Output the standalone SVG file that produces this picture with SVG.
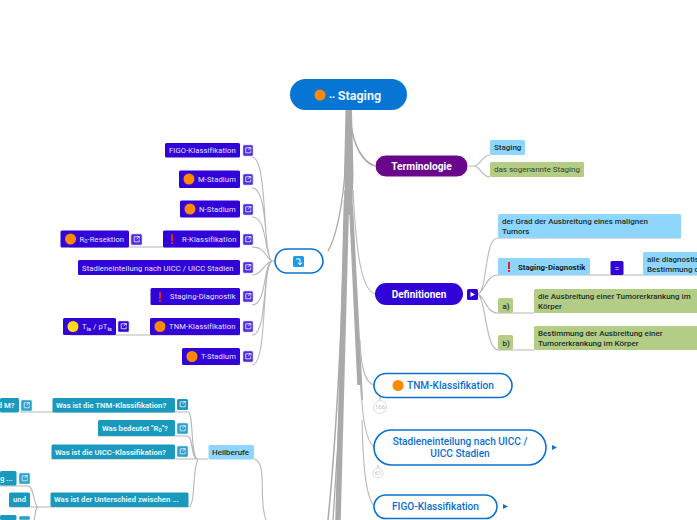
<svg xmlns="http://www.w3.org/2000/svg" width="697" height="520" viewBox="0 0 697 520">
<style>
text{font-family:Roboto,"Liberation Sans",sans-serif}
.c{fill:none;stroke:#b8b8b8;stroke-width:1.1}
.k{fill:none;stroke:#a9aaa9;stroke-linecap:butt}
.p{fill:#3103d8}.pt{font-size:7.6px;fill:#e8e4ff;letter-spacing:.12px}
.b{fill:#4a2be0;stroke:#c9c2f5;stroke-width:.6}
.tl{fill:#1899bd}.tb{fill:#2aa3c4;stroke:#bfe3ee;stroke-width:.6}.tt{font-size:7.7px;font-weight:700;fill:#e2f5fa}
.bl{fill:#8fd6fe}.g{fill:#b3cc86}.d{font-size:8px;fill:#20302a;font-weight:500}.n{font-size:8px;fill:#35452a}
.w{fill:#fff;stroke:#0a72d0;stroke-width:1.6}.wt{font-size:10.1px;font-weight:500;fill:#0a6fcf}
.o{fill:#ff8a00}.y{fill:#ffd91a}.r{fill:#e2232b}
</style>
<defs>
<g id="ext"><path d="M5.500 0.800H1.200V5.800H6.200V3.500M3.500 3.300L6.200 0.600M4.300 0.500H6.400V2.600" fill="none" stroke="#e4e0ff" stroke-width=".9"/></g>
</defs>
<g id="connectors">
<path d="M345.500 110H352L353.500 175L352 215H346L344 175Z" fill="#a9aaa9"/>
<path class="k" stroke-width="5.500" d="M346.500 200C345.500 270 342 340 338 520"/>
<path class="k" stroke-width="3.500" d="M350.500 200C351.500 230 354 280 359 385"/>
<path class="k" stroke-width="2" d="M352 205C354 255 358 320 362 400"/>
<path class="k" stroke-width="1.500" d="M345 190C344 280 338 420 328 520"/>
<path class="k" stroke-width="1.300" d="M346 185C345 290 340 420 333 520"/>
<path class="k" stroke-width="1.600" d="M351 125C354 145 362 162 375 166"/>
<path class="k" stroke-width="1.300" d="M345.500 165C343 205 336 238 328 251"/>
<path class="c" d="M468 166H474C480 166 482 155 490 155M474 166C480 166 482 177 490 177"/>
<path class="c" d="M353 190C356 250 361 290 375 294"/>
<path class="c" d="M478 294C488 290 484 238 498 238H681M478 294C486 290 486 275 498 275H590M478 294C486 298 486 313 498 313H534M478 294C486 300 486 350 498 350H534M590 275H697"/>
<path class="c" d="M360 340C361 365 364 382 374 385M361 385C362 415 365 440 374 447M362 420C363 460 365 495 374 506"/>
<path class="c" stroke-width="1.400" d="M272 261C262 255 268 157 252 157M272 261C263 255 269 188 252 188M272 261C264 256 268 217 252 217M272 261C265 258 266 247 252 247M272 261C265 262 262 275 252 275M272 261C263 264 267 305 252 305M272 261C262 266 268 335 252 335M272 261C261 268 268 365 252 365"/>
<path class="c" d="M272 261H275M240 247H70M240 335H70"/>
<path class="c" d="M208 459H198C190 459 194 412 188 412H20M198 459C190 459 194 436 187 436H98M198 459H51M198 459C192 470 196 507 188 507H50"/>
<path class="c" d="M50 507H38C34 507 34 486 28 486H0M38 507H9M38 507C34 510 36 515 34 520"/>
<path class="c" stroke-width="1.600" d="M254 459C268 462 258 500 266 520"/>
<path class="c" d="M380 397V401M378 465V468"/>
</g>
<g id="root"><rect x="290" y="79" width="117" height="31" rx="15.500" fill="#0675d3"/><circle cx="320" cy="95" r="5.500" class="o"/><text x="329" y="99.500" font-size="12.500" font-weight="700" fill="#eaf5ff"><tspan font-size="8">••</tspan> Staging</text></g>
<g id="terminologie"><rect x="375" y="155" width="93" height="22" rx="11" fill="#6a068c" stroke="#fff"/><text x="421.500" y="169.500" font-size="10.200" font-weight="700" fill="#fff" text-anchor="middle">Terminologie</text></g>
<g id="term-staging"><rect x="490" y="140" width="35" height="15" rx="1.500" class="bl"/><text x="494" y="150" class="d">Staging</text></g>
<g id="term-das"><rect x="490" y="162" width="94" height="15" rx="1.500" class="g"/><text x="494" y="172" class="n">das sogenannte Staging</text></g>
<g id="definitionen"><rect x="375" y="283" width="88" height="22" rx="11" fill="#3103d8"/><text x="419" y="298" font-size="10" font-weight="700" fill="#fff" text-anchor="middle">Definitionen</text><rect x="467" y="289" width="11" height="11" rx="1.500" class="p"/><path d="M470.500 292L475 294.500L470.500 297Z" fill="#fff"/></g>
<g id="def-grad"><rect x="498" y="214" width="183" height="24" rx="1.500" class="bl"/><text class="d" x="502" y="224">der Grad der Ausbreitung eines malignen</text><text class="d" x="502" y="234">Tumors</text></g>
<g id="def-diag"><rect x="498" y="258" width="92" height="17" rx="1.500" class="bl"/><rect x="508" y="262" width="2" height="7" class="r"/><rect x="508" y="270" width="2" height="2" class="r"/><text x="518" y="270" font-size="7.800" font-weight="700" fill="#152020">Staging-Diagnostik</text></g>
<g id="def-eq"><rect x="610.500" y="261" width="13" height="14" rx="1.500" class="p"/><text x="617" y="271" font-size="8" fill="#fff" text-anchor="middle">=</text></g>
<g id="def-alle"><rect x="643" y="252" width="60" height="23" rx="1.500" class="bl"/><text class="d" x="647" y="261.500">alle diagnostischen</text><text class="d" x="647" y="271.500">Bestimmung der</text></g>
<g id="def-a"><rect x="498" y="298" width="15" height="15" rx="2" class="g"/><text x="502.500" y="309" class="d">a)</text></g>
<g id="def-a-text"><rect x="534" y="289" width="170" height="24" rx="1.500" class="g"/><text class="d" x="538" y="299">die Ausbreitung einer Tumorerkrankung im</text><text class="d" x="538" y="309">Körper</text></g>
<g id="def-b"><rect x="498" y="335" width="15" height="15" rx="2" class="g"/><text x="502.500" y="346" class="d">b)</text></g>
<g id="def-b-text"><rect x="534" y="326" width="170" height="24" rx="1.500" class="g"/><text class="d" x="538" y="336">Bestimmung der Ausbreitung einer</text><text class="d" x="538" y="346">Tumorerkrankung im Körper</text></g>
<g id="tnm"><rect x="374" y="373.500" width="138" height="24" rx="12" class="w"/><circle cx="398" cy="385.500" r="5.500" class="o"/><text x="407" y="389" class="wt">TNM-Klassifikation</text></g>
<g id="badge-166"><circle cx="380" cy="407" r="6.500" fill="#fff" stroke="#ddd"/><text x="380" y="409" font-size="6" fill="#bbb" text-anchor="middle">166</text></g>
<g id="stadien"><rect x="374" y="430" width="172" height="35" rx="17.500" class="w"/><text x="460" y="445" class="wt" text-anchor="middle">Stadieneinteilung nach UICC /</text><text x="460" y="457" class="wt" text-anchor="middle">UICC Stadien</text><path d="M552 445L557 447.500L552 450Z" fill="#0a72d0"/></g>
<g id="badge-61"><circle cx="378" cy="473" r="5" fill="#fff" stroke="#ddd"/><text x="378" y="475" font-size="6" fill="#bbb" text-anchor="middle">61</text></g>
<g id="figo"><rect x="374" y="495" width="123" height="23.500" rx="11.700" class="w"/><text x="435.500" y="510" class="wt" text-anchor="middle">FIGO-Klassifikation</text><path d="M503 504L508 506.500L503 509Z" fill="#0a72d0"/></g>
<g id="hub"><rect x="275" y="249" width="48" height="24" rx="12" fill="#fff" stroke="#0a72d0" stroke-width="1.600"/><rect x="293" y="256" width="11" height="11" rx="1.500" fill="#1c9be6"/><path d="M296 259H300V264M298 262.500L300 265L302 262.500" fill="none" stroke="#fff"/></g>
<g id="l-figo"><rect x="165" y="143" width="75" height="14.500" rx="1.500" class="p"/><text x="169" y="153" class="pt">FIGO-Klassifikation</text><rect x="243" y="145" width="10" height="11" rx="1.500" class="b"/><use href="#ext" x="244.500" y="147"/></g>
<g id="l-m"><rect x="179" y="170.500" width="61" height="17.500" rx="1.500" class="p"/><circle cx="189" cy="179" r="5.500" class="o"/><text x="198" y="182" class="pt">M-Stadium</text><rect x="243" y="174" width="10" height="11" rx="1.500" class="b"/><use href="#ext" x="244.500" y="176"/></g>
<g id="l-n"><rect x="180" y="200.500" width="60" height="17" rx="1.500" class="p"/><circle cx="190" cy="209" r="5.500" class="o"/><text x="199" y="212" class="pt">N-Stadium</text><rect x="243" y="204" width="10" height="11" rx="1.500" class="b"/><use href="#ext" x="244.500" y="206"/></g>
<g id="l-r"><rect x="163" y="230.500" width="77" height="17" rx="1.500" class="p"/><rect x="171" y="234" width="2" height="7" class="r"/><rect x="171" y="242" width="2" height="2" class="r"/><text x="182" y="242" class="pt">R-Klassifikation</text><rect x="243" y="234" width="10" height="11" rx="1.500" class="b"/><use href="#ext" x="244.500" y="236"/></g>
<g id="l-r0"><rect x="60.500" y="230.500" width="68.500" height="17" rx="1.500" class="p"/><circle cx="70.500" cy="239" r="5.500" class="o"/><text x="79.500" y="241.500" class="pt">R<tspan font-size="5.500" dy="1.500">0</tspan><tspan dy="-1.500">-Resektion</tspan></text><rect x="131" y="234" width="11" height="11" rx="1.500" class="b"/><use href="#ext" x="133" y="236"/></g>
<g id="l-uicc"><rect x="78" y="260" width="162" height="15" rx="1.500" class="p"/><text x="82" y="271" class="pt">Stadieneinteilung nach UICC / UICC Stadien</text><rect x="243" y="262" width="10" height="11" rx="1.500" class="b"/><use href="#ext" x="244.500" y="264"/></g>
<g id="l-diag"><rect x="150.500" y="288" width="89.500" height="17" rx="1.500" class="p"/><rect x="159" y="292" width="2" height="7" class="r"/><rect x="159" y="300" width="2" height="2" class="r"/><text x="170" y="299" class="pt">Staging-Diagnostik</text><rect x="243" y="291" width="10" height="11" rx="1.500" class="b"/><use href="#ext" x="244.500" y="293"/></g>
<g id="l-tnm"><rect x="150" y="318" width="90" height="17" rx="1.500" class="p"/><circle cx="160" cy="326.500" r="5.500" class="o"/><text x="169" y="329" class="pt">TNM-Klassifikation</text><rect x="243" y="321" width="10" height="11" rx="1.500" class="b"/><use href="#ext" x="244.500" y="323"/></g>
<g id="l-tis"><rect x="63" y="318" width="53" height="17" rx="1.500" class="p"/><circle cx="73" cy="326.500" r="5.500" class="y"/><text x="82" y="329" class="pt">T<tspan font-size="5.500" dy="1.500" font-weight="700">is</tspan><tspan dy="-1.500"> / pT</tspan><tspan font-size="5.500" dy="1.500" font-weight="700">is</tspan></text><rect x="118" y="321" width="11" height="11" rx="1.500" fill="#3103d8" stroke="#c9c2f5" stroke-width=".6"/><use href="#ext" x="120" y="323"/></g>
<g id="l-t"><rect x="182" y="348" width="58" height="17" rx="1.500" class="p"/><circle cx="192" cy="356.500" r="5.500" class="o"/><text x="201" y="359" class="pt">T-Stadium</text><rect x="243" y="351" width="10" height="11" rx="1.500" class="b"/><use href="#ext" x="244.500" y="353"/></g>
<g id="q-tnm"><rect x="52.500" y="398" width="122.500" height="14.500" rx="1.500" class="tl"/><text x="56" y="408" class="tt">Was ist die TNM-Klassifikation?</text><rect x="177" y="399" width="11" height="11" rx="1.500" class="tl"/><use href="#ext" x="179" y="401"/></g>
<g id="q-tnm2"><rect x="0" y="398" width="19" height="14.500" rx="1.500" class="tl"/><text x="14.500" y="408" class="tt" text-anchor="end">d M?</text><rect x="21" y="400" width="11" height="11" rx="1.500" class="tb"/><use href="#ext" x="23" y="402"/></g>
<g id="q-r0"><rect x="98" y="420" width="77" height="16" rx="1.500" class="tl"/><text x="102" y="430.500" class="tt">Was bedeutet "R<tspan font-size="5.500" dy="1.500">0</tspan><tspan dy="-1.500">"?</tspan></text><rect x="177" y="423" width="11" height="11" rx="1.500" class="tb"/><use href="#ext" x="179" y="425"/></g>
<g id="q-uicc"><rect x="51.500" y="444.500" width="123.500" height="14.500" rx="1.500" class="tl"/><text x="55" y="454.500" class="tt">Was ist die UICC-Klassifikation?</text><rect x="177" y="446" width="11" height="11" rx="1.500" class="tb"/><use href="#ext" x="179" y="448"/></g>
<g id="heilberufe"><rect x="208.500" y="445" width="45.500" height="14.500" rx="1.500" class="bl"/><text x="212" y="455" class="d">Heilberufe</text></g>
<g id="q-unter"><rect x="50.500" y="492.500" width="138" height="14.500" rx="1.500" class="tl"/><text x="54" y="502" class="tt">Was ist der Unterschied zwischen ...</text></g>
<g id="q-g"><rect x="0" y="471" width="16.500" height="14.500" rx="1.500" class="tl"/><text x="13" y="481" class="tt" text-anchor="end">g ...</text><rect x="19" y="473" width="11" height="11" rx="1.500" class="tb"/><use href="#ext" x="21" y="475"/></g>
<g id="q-und"><rect x="9" y="492.500" width="21" height="14.500" rx="1.500" class="tl"/><text x="19.500" y="502" class="tt" text-anchor="middle">und</text></g>
<g id="q-bottom"><rect x="0" y="515" width="16.500" height="5" rx="1.500" class="tl"/><rect x="19" y="516" width="11" height="4" rx="1.500" class="tb"/></g>
</svg>
